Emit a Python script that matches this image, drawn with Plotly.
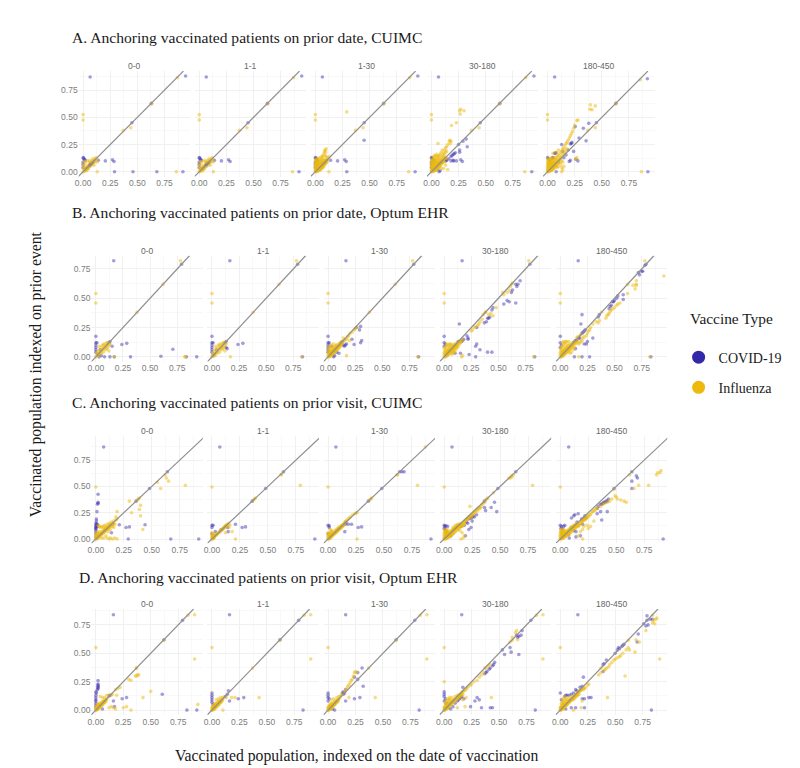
import plotly.graph_objects as go

panels = ["0-0", "1-1", "1-30", "30-180", "180-450"]
tick_vals = [0, 0.25, 0.5, 0.75]
tick_text = ["0.00", "0.25", "0.50", "0.75"]
minor_vals = [0.125, 0.375, 0.625, 0.875]

row_titles = ["A. Anchoring vaccinated patients on prior date, CUIMC",
              "B. Anchoring vaccinated patients on prior date, Optum EHR",
              "C. Anchoring vaccinated patients on prior visit, CUIMC",
              "D. Anchoring vaccinated patients on prior visit, Optum EHR"]
diag_low = -0.045
diag_high = [0.925, 0.865, 0.972, 0.89]

# Row A, CUIMC prior date
a_covid_base = [(0.065, 0.87), (0.945, 0.88), (0.63, 0.63), (0.45, 0.45), (0, 0.13), (0.005, 0.125), (0.012, 0.115),
                (0.02, 0.105), (0, 0.09), (0, 0.07), (0, 0.04), (0.02, 0.02), (0.03, 0.03), (0.04, 0.035), (0.05, 0.05),
                (0.06, 0.055), (0.065, 0.065), (0.07, 0.07), (0.075, 0.075), (0.08, 0.08), (0.09, 0.085), (0.1, 0.1),
                (0.14, 0.105), (0.205, 0.1), (0.27, 0.11), (0.285, 0.095)]
a_flu_base = [(0.87, 0.865), (0, 0.525), (0, 0.475), (0.63, 0.62), (0.37, 0.38), (0.44, 0.405), (0.86, 0.0)]
a_flu_small = [(0, 0), (0.01, 0.01), (0.02, 0.02), (0.03, 0.03), (0.02, 0.04), (0.03, 0.06), (0.05, 0.05), (0.06, 0.08),
               (0.08, 0.1), (0.1, 0.1), (0.11, 0.12), (0.12, 0.13), (0.11, 0.09), (0.09, 0.07), (0.07, 0.05), (0.05, 0.03),
               (0.03, 0.01), (0.02, 0.09), (0.04, 0.1), (0.06, 0.1), (0.1, 0.06), (0.12, 0.11), (0.13, 0.09), (0.09, 0.12),
               (0.04, 0.02), (0, 0.03), (0, 0.06), (0.01, 0.09), (0.13, 0), (0.07, 0.09), (0.04, 0.04), (0.015, 0.005)]
a_flu_core = [(0, 0), (0, 0.01), (0, 0.02), (0, 0.035), (0, 0.05), (0, 0.065), (0, 0.08), (0, 0.1), (0.005, 0.115),
              (0.01, 0), (0.01, 0.015), (0.01, 0.03), (0.01, 0.045), (0.01, 0.06), (0.01, 0.075), (0.01, 0.09), (0.01, 0.11),
              (0.02, 0.005), (0.02, 0.02), (0.02, 0.035), (0.02, 0.05), (0.02, 0.065), (0.02, 0.08), (0.02, 0.095), (0.02, 0.12),
              (0.03, 0.01), (0.03, 0.025), (0.03, 0.04), (0.03, 0.055), (0.03, 0.07), (0.03, 0.085), (0.03, 0.1), (0.03, 0.125),
              (0.04, 0.015), (0.04, 0.03), (0.04, 0.045), (0.04, 0.06), (0.04, 0.075), (0.04, 0.09), (0.04, 0.11),
              (0.05, 0.02), (0.05, 0.035), (0.05, 0.05), (0.05, 0.065), (0.05, 0.08), (0.05, 0.1), (0.05, 0.13),
              (0.06, 0.03), (0.06, 0.045), (0.06, 0.06), (0.06, 0.075), (0.06, 0.09), (0.06, 0.115),
              (0.07, 0.04), (0.07, 0.055), (0.07, 0.07), (0.07, 0.085), (0.07, 0.105), (0.07, 0.13),
              (0.08, 0.05), (0.08, 0.065), (0.08, 0.08), (0.08, 0.1), (0.09, 0.07), (0.09, 0.09), (0.09, 0.11),
              (0.1, 0.08), (0.1, 0.1), (0.11, 0.11), (0.12, 0.12), (0.11, 0.09), (0.015, 0.01), (0.025, 0.015), (0.035, 0.02)]
a_covid_00 = a_covid_base + [(0.29, 0), (0.46, 0), (0.68, 0), (0.92, 0)]
a_flu_00 = a_flu_base + a_flu_small
a_covid_11 = a_covid_base + [(0.92, 0)]
a_flu_11 = a_flu_base + a_flu_small
a_covid_130 = a_covid_base + [(0.45, 0.29), (0.92, 0), (0.29, 0)]
a_flu_130 = a_flu_base + a_flu_core + [(0.29, 0.55), (0.08, 0.17), (0.085, 0.19), (0.09, 0.2), (0.1, 0.21), (0.095, 0.18),
                                       (0.09, 0.15), (0.07, 0.15), (0.06, 0.14), (0.1, 0.14), (0.11, 0.13), (0.13, 0.14), (0.125, 0)]
a_covid_30180 = a_covid_base + [(0.925, 0), (0.18, 0.14), (0.19, 0.15), (0.2, 0.16), (0.21, 0.165), (0.22, 0.175), (0.16, 0.12),
                                (0.14, 0.11), (0.25, 0.25), (0.29, 0.28), (0.32, 0.3), (0.33, 0.23), (0.26, 0.2), (0.26, 0.18),
                                (0.23, 0.1), (0.2, 0.105), (0.18, 0.1), (0.13, 0.1), (0.09, 0.09), (0.05, 0.02), (0.08, 0.01), (0.07, 0)]
a_flu_30180 = a_flu_base + a_flu_core + [(0.27, 0.575), (0.3, 0.56), (0.265, 0.53), (0.26, 0.56), (0.23, 0.45), (0.185, 0.425),
                                         (0.17, 0.29), (0.165, 0.28), (0.18, 0.28), (0.175, 0.26), (0.15, 0.25), (0.14, 0.23),
                                         (0.13, 0.22), (0.12, 0.2), (0.1, 0.2), (0.09, 0.18), (0.06, 0.26), (0.08, 0.16), (0.11, 0.17),
                                         (0.1, 0.15), (0.12, 0.16), (0.13, 0.18), (0.14, 0.19), (0.07, 0.15), (0.06, 0.14), (0.05, 0.16),
                                         (0.04, 0.15), (0.03, 0.15), (0.02, 0.14), (0.09, 0.13), (0.1, 0.12), (0.11, 0.14), (0.12, 0.13),
                                         (0.13, 0.13), (0.14, 0.12), (0.13, 0.06), (0.15, 0.02), (0.11, 0.03), (0.09, 0.03), (0.12, 0.09)]
a_covid_180450 = [(0.065, 0.87), (0.92, 0.855), (0.63, 0.63), (0.45, 0.45), (0, 0.13), (0.01, 0.12), (0.02, 0.1), (0.065, 0.17),
                  (0.07, 0.17), (0.08, 0.175), (0.045, 0.125), (0.05, 0.13), (0.13, 0.25), (0.38, 0.445), (0.33, 0.4), (0.255, 0.415),
                  (0.225, 0.27), (0.21, 0.256), (0.22, 0.26), (0.355, 0.284), (0.29, 0.31), (0.2, 0.095), (0.21, 0.105), (0.26, 0.115),
                  (0.28, 0.1), (0.24, 0.187), (0.17, 0.155), (0.14, 0.187), (0.925, 0), (0.08, 0), (0.1, 0.09), (0.15, 0.13), (0.19, 0.2)]
a_flu_180450 = [(0.855, 0.845), (0, 0.525), (0, 0.475), (0.63, 0.62), (0.37, 0.38), (0.44, 0.405), (0.865, 0)] + a_flu_core + [
    (0.395, 0.615), (0.44, 0.605), (0.39, 0.575), (0.41, 0.57), (0.28, 0.475), (0.27, 0.47), (0.25, 0.43), (0.24, 0.4), (0.23, 0.37),
    (0.22, 0.35), (0.21, 0.33), (0.2, 0.31), (0.19, 0.29), (0.18, 0.27), (0.17, 0.26), (0.16, 0.24), (0.15, 0.22), (0.14, 0.21),
    (0.13, 0.19), (0.12, 0.18), (0.11, 0.16), (0.1, 0.15), (0.09, 0.14), (0.08, 0.13), (0.13, 0.14), (0.14, 0.16), (0.15, 0.17),
    (0.16, 0.18), (0.17, 0.2), (0.18, 0.21), (0.12, 0.13), (0.11, 0.12), (0.13, 0.1), (0.14, 0.09), (0.12, 0.07), (0.1, 0.05),
    (0.09, 0.04), (0.13, 0.04), (0.15, 0.05), (0.14, 0.02), (0.13, 0), (0.26, 0.12), (0.27, 0.13), (0.1, 0.2), (0.08, 0.18), (0.05, 0.17)]

# Row B, Optum EHR prior date
b_covid_base = [(0.165, 0.82), (0.79, 0.79), (0.835, 0), (0, 0.175), (0, 0.12), (0.01, 0.12), (0, 0.1), (0, 0.08), (0, 0.06), (0, 0.04),
                (0.02, 0.02), (0.13, 0.13), (0.12, 0.12)]
b_flu_base = [(0.78, 0.82), (0.62, 0.62), (0.38, 0.38), (0, 0.54), (0, 0.46), (0.825, 0)]
b_flu_small = [(0, 0), (0.01, 0.01), (0.02, 0.02), (0.03, 0.03), (0.04, 0.04), (0.05, 0.05), (0.06, 0.06), (0.07, 0.07), (0.08, 0.08),
               (0.09, 0.09), (0.1, 0.1), (0.11, 0.11), (0.12, 0.12), (0.08, 0.11), (0.06, 0.1), (0.03, 0.09), (0.05, 0.08), (0.1, 0.12),
               (0.12, 0.1), (0.11, 0.08), (0.09, 0.06), (0.07, 0.04), (0.05, 0.03), (0.03, 0.01), (0.02, 0.05), (0.01, 0.03), (0.13, 0.11),
               (0.11, 0.12), (0.1, 0.07), (0.04, 0.06), (0.07, 0.1), (0.12, 0.05), (0.17, 0)]
b_flu_core = [(0, 0), (0, 0.02), (0, 0.04), (0, 0.07), (0.01, 0), (0.01, 0.015), (0.01, 0.03), (0.01, 0.05), (0.01, 0.08), (0.02, 0.005),
              (0.02, 0.02), (0.02, 0.035), (0.02, 0.055), (0.02, 0.09), (0.03, 0.01), (0.03, 0.025), (0.03, 0.04), (0.03, 0.06), (0.03, 0.1),
              (0.04, 0.02), (0.04, 0.035), (0.04, 0.05), (0.04, 0.07), (0.05, 0.03), (0.05, 0.045), (0.05, 0.06), (0.05, 0.08), (0.05, 0.11),
              (0.06, 0.035), (0.06, 0.05), (0.06, 0.065), (0.06, 0.085), (0.07, 0.045), (0.07, 0.06), (0.07, 0.075), (0.07, 0.095),
              (0.08, 0.055), (0.08, 0.07), (0.08, 0.085), (0.08, 0.105), (0.09, 0.065), (0.09, 0.08), (0.09, 0.095), (0.1, 0.075), (0.1, 0.09),
              (0.1, 0.105), (0.11, 0.085), (0.11, 0.1), (0.11, 0.115), (0.12, 0.1), (0.12, 0.115), (0.13, 0.115), (0.13, 0.13), (0.14, 0.13),
              (0.015, 0.01), (0.025, 0.02), (0.035, 0.03), (0.045, 0.04), (0.055, 0.05), (0.065, 0.06), (0.075, 0.07), (0.085, 0.08),
              (0.095, 0.09), (0.105, 0.1), (0.115, 0.11), (0.125, 0.12)]
b_covid_00 = b_covid_base + [(0.05, 0.01), (0.15, 0.09), (0.24, 0.105), (0.285, 0.115), (0.32, 0), (0.13, 0), (0.17, 0), (0.6, 0.005),
                             (0.71, 0.065), (0.93, 0), (0.08, 0), (0.04, 0.06), (0.03, 0)]
b_flu_00 = b_flu_base + b_flu_small + [(0.82, 0)]
b_covid_11 = b_covid_base + [(0.13, 0.08), (0.14, 0.07), (0.24, 0.105), (0.285, 0.115), (0.04, 0.06), (0.01, 0.01)]
b_flu_11 = b_flu_base + b_flu_small
b_covid_130 = b_covid_base + [(0.14, 0.1), (0.15, 0.09), (0.16, 0.1), (0.17, 0.11), (0.1, 0.03), (0.08, 0.04), (0.06, 0.01), (0.24, 0.105),
                              (0.3, 0.12), (0.31, 0.14), (0.3, 0.26), (0.29, 0.23), (0.26, 0.25), (0.22, 0.15), (0.03, 0.09), (0.05, 0)]
b_flu_130 = b_flu_base + b_flu_core + [(0.15, 0.14), (0.16, 0.15), (0.18, 0.17), (0.19, 0.18), (0.2, 0.2), (0.22, 0.21), (0.24, 0.23),
                                       (0.25, 0.24), (0.27, 0.25), (0.14, 0.16), (0.17, 0.15), (0.11, 0.12), (0.17, 0.01), (0.2, 0.14)]
b_covid_30180 = [(0.165, 0.82), (0.79, 0.79), (0.835, 0), (0, 0.175), (0, 0.12), (0.01, 0.11), (0, 0.09), (0.13, 0.13), (0.14, 0.28),
                 (0.7, 0.65), (0.68, 0.62), (0.66, 0.62), (0.67, 0.6), (0.63, 0.57), (0.62, 0.55), (0.66, 0.46), (0.58, 0.48), (0.55, 0.45),
                 (0.6, 0.47), (0.45, 0.42), (0.44, 0.4), (0.42, 0.34), (0.41, 0.33), (0.4, 0.33), (0.39, 0.3), (0.37, 0.29), (0.3, 0.25),
                 (0.22, 0.15), (0.22, 0.16), (0.21, 0.18), (0.18, 0.15), (0.17, 0.14), (0.16, 0.13), (0.3, 0.11), (0.29, 0.09), (0.33, 0.06),
                 (0.4, 0.04), (0.44, 0.04), (0.29, 0), (0.23, 0.02), (0.15, 0.03), (0.1, 0.03)]
b_flu_30180 = b_flu_base + b_flu_core + [(0.14, 0.11), (0.15, 0.13), (0.16, 0.15), (0.17, 0.14), (0.15, 0.12), (0.13, 0.09), (0.12, 0.08),
                                         (0.11, 0.07), (0.1, 0.05), (0.09, 0.04), (0.08, 0.03), (0.07, 0.02), (0.25, 0.22), (0.26, 0.23),
                                         (0.28, 0.25), (0.29, 0.26), (0.31, 0.27), (0.32, 0.28), (0.33, 0.3), (0.35, 0.32), (0.36, 0.36),
                                         (0.38, 0.38), (0.41, 0.36), (0.43, 0.37), (0.45, 0.35), (0.48, 0.42), (0.54, 0.55), (0.55, 0.53),
                                         (0.58, 0.55), (0.6, 0.57), (0.61, 0.6), (0.63, 0.63), (0.16, 0), (0.17, 0.01), (0.06, 0.11), (0.04, 0.1), (0.02, 0.11)]
b_covid_180450 = [(0.165, 0.82), (0.79, 0.79), (0.835, 0), (0, 0.175), (0, 0.12), (0, 0.08), (0.01, 0.1), (0.78, 0.78), (0.76, 0.73), (0.72, 0.72),
                  (0.73, 0.7), (0.75, 0.73), (0.58, 0.53), (0.58, 0.49), (0.53, 0.52), (0.52, 0.5), (0.5, 0.48), (0.49, 0.47), (0.48, 0.47), (0.47, 0.44),
                  (0.46, 0.43), (0.45, 0.41), (0.36, 0.36), (0.35, 0.34), (0.2, 0.36), (0.19, 0.28), (0.23, 0.23), (0.22, 0.22), (0.21, 0.21), (0.2, 0.2),
                  (0.18, 0.16), (0.17, 0.16), (0.15, 0.14), (0.14, 0.14), (0.13, 0.13), (0.12, 0.12), (0.25, 0.13), (0.24, 0.11), (0.22, 0.11), (0.27, 0.0),
                  (0.2, 0.0), (0.13, 0.0), (0.14, 0.07), (0.3, 0.16)]
b_flu_180450 = [(0.78, 0.82), (0.62, 0.62), (0.38, 0.38), (0, 0.54), (0, 0.46), (0.825, 0), (0.955, 0.69)] + b_flu_core + [
    (0.7, 0.65), (0.7, 0.62), (0.7, 0.61), (0.69, 0.58), (0.67, 0.61), (0.62, 0.54), (0.55, 0.46), (0.53, 0.45), (0.52, 0.44), (0.5, 0.42),
    (0.48, 0.41), (0.47, 0.4), (0.46, 0.39), (0.45, 0.37), (0.44, 0.36), (0.43, 0.35), (0.42, 0.33), (0.36, 0.31), (0.35, 0.29), (0.33, 0.3),
    (0.3, 0.28), (0.28, 0.25), (0.27, 0.23), (0.26, 0.22), (0.25, 0.2), (0.24, 0.18), (0.22, 0.17), (0.21, 0.16), (0.2, 0.14), (0.19, 0.13),
    (0.18, 0.12), (0.17, 0.11), (0.16, 0.13), (0.15, 0.12), (0.14, 0.11), (0.13, 0.08), (0.12, 0.06), (0.1, 0.04), (0.09, 0.03), (0.17, 0),
    (0.02, 0.12), (0.03, 0.13), (0.04, 0.12), (0.05, 0.13), (0.06, 0.13), (0.08, 0.13), (0.15, 0.16), (0.16, 0.17), (0.18, 0.18), (0.19, 0.19)]

# Row C, CUIMC prior visit
c_covid_base = [(0.07, 0.875), (0.64, 0.64), (0.48, 0.48), (0.36, 0.36)]
c_flu_base = [(0, 0.495), (0.62, 0.61), (0.37, 0.37), (0.38, 0.38), (0.39, 0.39)]
c_flu_diag = [(0, 0), (0.005, 0.005), (0.01, 0.01), (0.015, 0.015), (0.02, 0.02), (0.025, 0.025), (0.03, 0.03), (0.035, 0.035), (0.04, 0.04),
              (0.045, 0.045), (0.05, 0.05), (0.055, 0.055), (0.06, 0.06), (0.065, 0.065), (0.07, 0.07), (0.075, 0.075), (0.08, 0.08),
              (0.085, 0.085), (0.09, 0.09), (0.095, 0.095), (0.1, 0.1), (0.105, 0.105), (0.11, 0.11), (0.115, 0.115), (0.12, 0.12), (0.125, 0.125),
              (0.13, 0.13), (0.135, 0.135), (0.14, 0.14), (0.15, 0.15), (0, 0.01), (0, 0.025), (0, 0.04), (0, 0.06), (0.01, 0), (0.01, 0.02), (0.01, 0.035),
              (0.015, 0.05), (0.02, 0.01), (0.02, 0.035), (0.02, 0.06), (0.03, 0.02), (0.03, 0.045), (0.03, 0.07), (0.04, 0.03), (0.04, 0.055), (0.05, 0.04),
              (0.05, 0.065), (0.06, 0.05), (0.06, 0.075), (0.07, 0.06), (0.07, 0.085), (0.08, 0.07), (0.08, 0.095), (0.09, 0.08), (0.09, 0.105),
              (0.1, 0.09), (0.1, 0.115), (0.11, 0.1), (0.12, 0.11), (0.13, 0.12), (0.12, 0.13), (0.14, 0.13)]
c_flu_band = [(0.02, 0.005), (0.03, 0.01), (0.04, 0.02), (0.05, 0.025), (0.06, 0.035), (0.07, 0.045), (0.08, 0.05), (0.09, 0.06), (0.1, 0.07), (0.11, 0.08),
              (0.12, 0.09), (0.13, 0.1), (0.14, 0.11), (0.15, 0.12), (0.16, 0.12), (0.17, 0.13), (0.18, 0.15), (0.19, 0.17), (0.2, 0.18), (0.21, 0.19),
              (0.22, 0.2), (0.23, 0.2), (0.24, 0.21), (0.25, 0.22), (0.26, 0.23), (0.28, 0.25), (0.3, 0.27), (0.32, 0.29), (0.005, 0.07), (0.005, 0.09),
              (0.01, 0.06), (0.01, 0.08), (0.015, 0.07), (0.02, 0.08), (0.025, 0.05), (0.03, 0.09), (0.035, 0.06)]
c_covid_00 = c_covid_base + [(0, 0.02), (0, 0.05), (0, 0.07), (0, 0.09), (0, 0.1), (0, 0.11), (0, 0.12), (0.005, 0.13), (0.005, 0.14), (0, 0.15),
                             (0.005, 0.17), (0.005, 0.19), (0.01, 0.26), (0.015, 0.33), (0.02, 0.34), (0.02, 0.35), (0.02, 0.425), (0.015, 0.14),
                             (0.015, 0.12), (0.14, 0.06), (0.08, 0.08), (0.09, 0.09), (0.1, 0.1), (0.15, 0.14), (0.21, 0.135), (0.27, 0.11), (0.3, 0.115),
                             (0.29, 0), (0.44, 0.135), (0.67, 0), (0.92, 0)]
c_flu_00 = c_flu_base + c_flu_diag + [(0.02, 0.13), (0.03, 0.12), (0.04, 0.11), (0.05, 0.12), (0.06, 0.11), (0.07, 0.12), (0.08, 0.13), (0.1, 0.14),
                                      (0.12, 0.15), (0.14, 0.16), (0.16, 0.17), (0.18, 0.18), (0.19, 0.19), (0.17, 0.14), (0.16, 0.11), (0.18, 0.21),
                                      (0.19, 0.26), (0.16, 0.15), (0.15, 0.12), (0.1, 0.01), (0.12, 0), (0.13, 0.01), (0.15, 0), (0.17, 0.01), (0.19, 0),
                                      (0.09, 0.03), (0.07, 0.01), (0.05, 0.01), (0.11, 0.07), (0.13, 0.09), (0.3, 0.36), (0.32, 0.25), (0.4, 0.32), (0.39, 0.28),
                                      (0.4, 0.22), (0.42, 0.09), (0.55, 0.54), (0.58, 0.48), (0.63, 0.58), (0.65, 0.55), (0.8, 0.51)]
c_covid_11 = c_covid_base + [(0, 0.13), (0.01, 0.13), (0, 0.11), (0, 0.05), (0.01, 0.03), (0.08, 0.085), (0.09, 0.09), (0.12, 0.12), (0.14, 0.11),
                             (0.145, 0.07), (0.21, 0.14), (0.27, 0.11), (0.3, 0.115), (0.92, 0), (0.03, 0.07)]
c_flu_11 = c_flu_base + c_flu_diag[:40] + [(0.18, 0.07), (0.12, 0.06), (0.15, 0.11), (0.16, 0.13), (0.1, 0.1), (0.12, 0.12), (0.21, 0), (0.79, 0.51), (0.62, 0.615)]
c_covid_130 = c_covid_base + [(0, 0.13), (0.01, 0.125), (0.01, 0.11), (0, 0.05), (0.1, 0.1), (0.13, 0.13), (0.15, 0.15), (0.16, 0.16), (0.155, 0.14),
                              (0.18, 0.14), (0.15, 0.07), (0.21, 0.14), (0.27, 0.11), (0.3, 0.115), (0.68, 0.64), (0.92, 0), (0.66, 0.64)]
c_flu_130 = c_flu_base + c_flu_diag + [(0.02, 0.09), (0.03, 0.08), (0.15, 0.16), (0.16, 0.17), (0.17, 0.18), (0.18, 0.19), (0.19, 0.2), (0.2, 0.21), (0.22, 0.23),
                                       (0.24, 0.24), (0.25, 0.25), (0.26, 0.25), (0.26, 0), (0.8, 0.51), (0.87, 0.875), (0.62, 0.61)]
c_covid_30180 = [(0.07, 0.875), (0.64, 0.64), (0.48, 0.48), (0.36, 0.36), (0, 0.13), (0.005, 0.12), (0.015, 0.125), (0.03, 0.12), (0, 0.1), (0.01, 0.09), (0.02, 0.07),
                 (0.04, 0.04), (0.06, 0.03), (0.22, 0.19), (0.23, 0.2), (0.24, 0.2), (0.25, 0.21), (0.27, 0.21), (0.26, 0.22), (0.25, 0.17), (0.2, 0.16), (0.21, 0.15),
                 (0.18, 0.13), (0.15, 0.12), (0.29, 0.23), (0.36, 0.3), (0.42, 0.3), (0.45, 0.35), (0.47, 0.26), (0.37, 0.27), (0.24, 0.11), (0.22, 0.09), (0.19, 0.03)]
c_flu_30180 = c_flu_base + c_flu_diag + c_flu_band + [(0.15, 0.14), (0.16, 0.15), (0.17, 0.16), (0.18, 0.17), (0.19, 0.18), (0.2, 0.19), (0.21, 0.2), (0.22, 0.21), (0.23, 0.22),
                                                      (0.24, 0.23), (0.25, 0.24), (0.26, 0.25), (0.27, 0.26), (0.28, 0.27), (0.29, 0.28), (0.3, 0.29), (0.31, 0.3), (0.32, 0.3),
                                                      (0.33, 0.31), (0.34, 0.33), (0.35, 0.34), (0.36, 0.35), (0.23, 0.31), (0.16, 0.13), (0.18, 0.14), (0.1, 0.13), (0.12, 0.14),
                                                      (0.08, 0.11), (0.14, 0.08), (0.16, 0.06), (0.18, 0.03), (0.15, 0), (0.17, 0.01), (0.05, 0.02), (0.08, 0.05), (0.6, 0.6), (0.605, 0.59),
                                                      (0.59, 0.58), (0.58, 0.58), (0.79, 0.51), (0.44, 0.44)]
c_covid_180450 = [(0.075, 0.875), (0.64, 0.64), (0.48, 0.48), (0, 0.13), (0.01, 0.12), (0.005, 0.1), (0.02, 0.09), (0.03, 0.12), (0.04, 0.13), (0.1, 0.2),
                  (0.12, 0.22), (0.13, 0.23), (0.16, 0.24), (0.2, 0.18), (0.21, 0.2), (0.19, 0.19), (0.22, 0.22), (0.23, 0.2), (0.2, 0.14), (0.15, 0.16),
                  (0.1, 0.11), (0.12, 0.08), (0.14, 0.07), (0.07, 0.04), (0.08, 0.01), (0.14, 0.02), (0.18, 0.03), (0.33, 0.29), (0.34, 0.31), (0.36, 0.33), (0.37, 0.33),
                  (0.38, 0.34), (0.39, 0.35), (0.4, 0.35), (0.41, 0.36), (0.42, 0.36), (0.43, 0.38), (0.36, 0.26), (0.42, 0.26), (0.33, 0.24), (0.37, 0.18), (0.64, 0.55),
                  (0.64, 0.48), (0.69, 0.58), (0.68, 0.6), (0.92, 0)]
c_flu_180450 = [(0, 0.495), (0.62, 0.61)] + c_flu_diag + c_flu_band + [(0.15, 0.13), (0.16, 0.13), (0.17, 0.14), (0.18, 0.15), (0.19, 0.16), (0.2, 0.17), (0.21, 0.18), (0.22, 0.18),
                                                                       (0.23, 0.19), (0.25, 0.21), (0.27, 0.23), (0.29, 0.26), (0.31, 0.27), (0.33, 0.29), (0.36, 0.31), (0.38, 0.33), (0.4, 0.34), (0.42, 0.35),
                                                                       (0.44, 0.36), (0.46, 0.38), (0.49, 0.41), (0.5, 0.4), (0.51, 0.38), (0.54, 0.37), (0.57, 0.36), (0.59, 0.35), (0.48, 0.47), (0.66, 0.48),
                                                                       (0.7, 0.51), (0.79, 0.51), (0.87, 0.63), (0.86, 0.61), (0.9, 0.65), (0.89, 0.63), (0.18, 0.07), (0.2, 0.09), (0.24, 0.13), (0.27, 0.12),
                                                                       (0.25, 0.1), (0.21, 0.12), (0.2, 0), (0.16, 0.03), (0.3, 0.17), (0.02, 0.06), (0.04, 0.08), (0.05, 0.03), (0.08, 0.04)]

# Row D, Optum EHR prior visit
d_covid_base = [(0.16, 0.84), (0.79, 0.79), (0.62, 0.62)]
d_flu_base = [(0.9, 0.84), (0, 0.55), (0.62, 0.615), (0.37, 0.37), (0.84, 0.835)]
d_flu_diag = [(0, 0), (0.005, 0), (0.01, 0.005), (0.015, 0.015), (0.02, 0.02), (0.025, 0.02), (0.03, 0.03), (0.035, 0.03), (0.04, 0.04), (0.045, 0.04), (0.05, 0.05),
              (0.055, 0.05), (0.06, 0.06), (0.065, 0.06), (0.07, 0.07), (0.075, 0.07), (0.08, 0.08), (0.085, 0.08), (0.09, 0.09), (0.095, 0.09), (0.1, 0.1),
              (0, 0.01), (0, 0.025), (0.005, 0.02), (0.01, 0.025), (0.01, 0.04), (0.02, 0.035), (0.02, 0.05), (0.03, 0.045), (0.03, 0.06), (0.04, 0.055), (0.05, 0.065),
              (0.06, 0.075), (0.07, 0.085), (0.015, 0.005), (0.025, 0.01), (0.035, 0.02), (0.045, 0.03), (0.055, 0.04), (0.065, 0.05), (0.08, 0.065), (0.09, 0.075)]
d_flu_band = [(0.11, 0.105), (0.12, 0.115), (0.13, 0.125), (0.14, 0.135), (0.15, 0.145), (0.16, 0.155), (0.17, 0.165), (0.18, 0.17), (0.19, 0.175), (0.2, 0.185),
              (0.21, 0.195), (0.1, 0.085), (0.11, 0.09), (0.12, 0.095), (0.13, 0.105), (0.14, 0.115), (0.15, 0.125), (0.16, 0.13), (0.17, 0.14), (0.02, 0.07), (0.03, 0.08),
              (0.01, 0.06), (0.04, 0.09), (0.05, 0.095)]
d_covid_00 = d_covid_base + [(0, 0.02), (0, 0.04), (0, 0.06), (0, 0.08), (0, 0.09), (0, 0.11), (0, 0.13), (0.005, 0.15), (0, 0.16), (0.015, 0.18), (0.02, 0.19), (0.02, 0.2),
                             (0.02, 0.21), (0.02, 0.22), (0.02, 0.23), (0.02, 0.26), (0.12, 0.125), (0.13, 0.13), (0.16, 0.08), (0.24, 0.1), (0.28, 0.11), (0.17, 0.03),
                             (0.605, 0.14), (0.83, 0), (0.92, 0), (0.06, 0.01)]
d_flu_00 = d_flu_base + d_flu_diag + [(0.04, 0.12), (0.06, 0.11), (0.08, 0.11), (0.1, 0.13), (0.12, 0.13), (0.14, 0.13), (0.15, 0.14), (0.18, 0.18), (0.2, 0.19), (0.22, 0.2),
                                      (0.3, 0.27), (0.32, 0.26), (0.36, 0.3), (0.37, 0.3), (0.38, 0.31), (0.39, 0.31), (0.37, 0.37), (0.19, 0.13), (0.12, 0.02), (0.14, 0.03), (0.16, 0.02),
                                      (0.18, 0.01), (0.25, 0.02), (0.28, 0.03), (0.32, 0), (0.43, 0.11), (0.5, 0.165), (0.9, 0.45), (0.93, 0.05)]
d_covid_11 = d_covid_base + [(0, 0.15), (0, 0.13), (0, 0.11), (0, 0.09), (0, 0.07), (0.01, 0.05), (0.02, 0.03), (0.14, 0.14), (0.15, 0.17), (0.12, 0.12), (0.16, 0.08), (0.24, 0.1), (0.29, 0.11), (0.83, 0)]
d_flu_11 = d_flu_base + d_flu_diag + [(0.04, 0.09), (0.06, 0.1), (0.08, 0.11), (0.1, 0.11), (0.13, 0.11), (0.18, 0.11), (0.21, 0.11), (0.43, 0.11), (0.1, 0), (0.9, 0.45)]
d_covid_130 = d_covid_base + [(0, 0.15), (0, 0.13), (0, 0.11), (0.01, 0.1), (0, 0.08), (0.02, 0.03), (0.04, 0.01), (0.06, 0), (0.13, 0.15), (0.14, 0.16), (0.14, 0.14), (0.15, 0.15),
                              (0.16, 0.18), (0.16, 0.08), (0.24, 0.1), (0.29, 0.11), (0.32, 0.21), (0.27, 0.27), (0.31, 0.37), (0.27, 0.33), (0.24, 0.29), (0.83, 0)]
d_flu_130 = d_flu_base + d_flu_diag + [(0.03, 0.09), (0.05, 0.1), (0.08, 0.11), (0.1, 0.12), (0.11, 0.12), (0.12, 0.13), (0.13, 0.14), (0.15, 0.16), (0.16, 0.17), (0.17, 0.19), (0.18, 0.21), (0.19, 0.22),
                                       (0.2, 0.24), (0.21, 0.26), (0.22, 0.27), (0.23, 0.3), (0.24, 0.33), (0.25, 0.34), (0.26, 0.33), (0.19, 0.11), (0.43, 0.11), (0.9, 0.45)]
d_covid_30180 = [(0.16, 0.84), (0.79, 0.79), (0, 0.16), (0, 0.14), (0, 0.12), (0.01, 0.1), (0, 0.08), (0.02, 0.06), (0.04, 0.02), (0.06, 0.01), (0.08, 0.03), (0.1, 0.06), (0.12, 0.08), (0.13, 0.09),
                 (0.14, 0.1), (0.15, 0.11), (0.16, 0.12), (0.17, 0.2), (0.18, 0.1), (0.24, 0.03), (0.3, 0.11), (0.32, 0.09), (0.34, 0.02), (0.28, 0.08), (0.41, 0.36), (0.42, 0.37), (0.44, 0.39), (0.46, 0.42), (0.45, 0.4),
                 (0.37, 0.32), (0.38, 0.33), (0.39, 0.34), (0.6, 0.55), (0.68, 0.49), (0.61, 0.51), (0.53, 0.53), (0.55, 0.49), (0.66, 0.66), (0.68, 0.65), (0.7, 0.66), (0.71, 0.7), (0.67, 0.64), (0.42, 0.02), (0.44, 0.02), (0.83, 0)]
d_flu_30180 = d_flu_base + d_flu_diag + d_flu_band + [(0.03, 0.1), (0.05, 0.11), (0.07, 0.11), (0.1, 0.12), (0.12, 0.13), (0.13, 0.12), (0.14, 0.13), (0.15, 0.14), (0.16, 0.15), (0.22, 0.21), (0.24, 0.22), (0.25, 0.23),
                                                      (0.27, 0.25), (0.3, 0.26), (0.32, 0.29), (0.34, 0.31), (0.36, 0.33), (0.38, 0.37), (0.4, 0.39), (0.42, 0.4), (0, 0.25), (0.43, 0.11), (0.9, 0.45), (0.62, 0.64), (0.66, 0.7),
                                                      (0.67, 0.62), (0.65, 0.68), (0.6, 0.6), (0.2, 0.11), (0.17, 0.09), (0.19, 0.03), (0.12, 0.02)]
d_covid_180450 = [(0.16, 0.84), (0.79, 0.79), (0.83, 0), (0, 0.15), (0.01, 0.09), (0.04, 0.12), (0.05, 0.13), (0.06, 0.13), (0.08, 0.13), (0.1, 0.14), (0.12, 0.15), (0.14, 0.18), (0.15, 0.17),
                  (0.18, 0.2), (0.2, 0.21), (0.2, 0.1), (0.22, 0.1), (0.26, 0.11), (0.28, 0.11), (0.22, 0.02), (0.14, 0.02), (0.1, 0.02), (0.05, 0.01), (0.21, 0.29), (0.39, 0.34), (0.39, 0.4), (0.4, 0.41),
                  (0.42, 0.44), (0.5, 0.5), (0.52, 0.53), (0.53, 0.55), (0.54, 0.54), (0.56, 0.56), (0.57, 0.57), (0.58, 0.58), (0.7, 0.6), (0.71, 0.67), (0.76, 0.76), (0.78, 0.74), (0.8, 0.75), (0.82, 0.8), (0.84, 0.8), (0.79, 0.83)]
d_flu_180450 = [(0.84, 0.835), (0, 0.55), (0.62, 0.615), (0.37, 0.37), (0.905, 0.45), (0.43, 0.11), (0.59, 0.3), (0.2, 0.08)] + d_flu_diag + d_flu_band + [
    (0.11, 0.1), (0.12, 0.11), (0.13, 0.12), (0.14, 0.13), (0.15, 0.14), (0.16, 0.15), (0.17, 0.16), (0.18, 0.17), (0.19, 0.18), (0.21, 0.18), (0.22, 0.19), (0.23, 0.2), (0.25, 0.22), (0.26, 0.23),
    (0.35, 0.31), (0.37, 0.33), (0.4, 0.35), (0.41, 0.36), (0.42, 0.37), (0.44, 0.38), (0.45, 0.4), (0.47, 0.42), (0.49, 0.44), (0.5, 0.45), (0.52, 0.46), (0.54, 0.47), (0.55, 0.48), (0.57, 0.5),
    (0.6, 0.53), (0.62, 0.55), (0.69, 0.62), (0.72, 0.6), (0.68, 0.51), (0.63, 0.53), (0.85, 0.79), (0.87, 0.8), (0.84, 0.77), (0.86, 0.76), (0.88, 0.81), (0.78, 0.7), (0.04, 0.12), (0.02, 0.1), (0.06, 0.11),
    (0.08, 0.1), (0.1, 0.12), (0.12, 0), (0.19, 0.02)]

covid_rows = [[a_covid_00, a_covid_11, a_covid_130, a_covid_30180, a_covid_180450],
              [b_covid_00, b_covid_11, b_covid_130, b_covid_30180, b_covid_180450],
              [c_covid_00, c_covid_11, c_covid_130, c_covid_30180, c_covid_180450],
              [d_covid_00, d_covid_11, d_covid_130, d_covid_30180, d_covid_180450]]
flu_rows = [[a_flu_00, a_flu_11, a_flu_130, a_flu_30180, a_flu_180450],
            [b_flu_00, b_flu_11, b_flu_130, b_flu_30180, b_flu_180450],
            [c_flu_00, c_flu_11, c_flu_130, c_flu_30180, c_flu_180450],
            [d_flu_00, d_flu_11, d_flu_130, d_flu_30180, d_flu_180450]]

W, H = 800, 768
COVID = "#3228a8"
FLU = "#ecb90c"
SERIF = "Liberation Serif"
SANS = "Liberation Sans"

# pixel layout of each row: zero x of first panel, px per unit x, zero y, px per unit y, top, bottom
row_px = [(79.5, 109, 172, 109, 71, 177),
          (92.3, 109, 357.3, 117.3, 256, 362),
          (92.3, 112.4, 539.7, 105.3, 437, 544),
          (92.3, 110.3, 711, 113.7, 609.7, 716)]
panel_step = 116.7
panel_w = 112
title_pos = [(66, 38), (66, 212.7), (66, 402.7), (73, 578.3)]

fig = go.Figure()
layout = {}
annotations = []


def paper(px, py):
    return px / W, 1 - py / H


n = 0
for r in range(4):
    x0, sx, y0, sy, top, bottom = row_px[r]
    for c in range(5):
        n += 1
        left = x0 - 4.5 + c * panel_step
        zero = x0 + c * panel_step
        suffix = "" if n == 1 else str(n)
        grid = dict(showgrid=True, gridcolor="#f0f0f0", gridwidth=0.7, zeroline=False, showline=False, ticks="",
                    tickvals=tick_vals, ticktext=tick_text, tickfont=dict(family=SANS, size=8.5, color="#7d7d7d"),
                    minor=dict(tickvals=minor_vals, showgrid=True, gridcolor="#f8f8f8", gridwidth=0.5, ticks=""))
        layout["xaxis" + suffix] = dict(grid, domain=[left / W, (left + panel_w) / W], anchor="y" + suffix,
                                        range=[(left - zero) / sx, (left + panel_w - zero) / sx])
        layout["yaxis" + suffix] = dict(grid, domain=[1 - bottom / H, 1 - top / H], anchor="x" + suffix,
                                        range=[(y0 - bottom) / sy, (y0 - top) / sy], showticklabels=c == 0)
        for pts, color, opacity in [(covid_rows[r][c], COVID, 0.45), (flu_rows[r][c], FLU, 0.5)]:
            fig.add_trace(go.Scatter(x=[p[0] for p in pts], y=[p[1] for p in pts], mode="markers", xaxis="x" + suffix,
                                     yaxis="y" + suffix, showlegend=False, cliponaxis=False,
                                     marker=dict(size=3.6, color=color, opacity=opacity, line=dict(width=0))))
        fig.add_trace(go.Scatter(x=[diag_low, diag_high[r]], y=[diag_low, diag_high[r]], mode="lines", xaxis="x" + suffix,
                                 yaxis="y" + suffix, showlegend=False, line=dict(color="#8f8f8f", width=1.2)))
        px, py = paper(left + panel_w / 2, top - 5)
        annotations.append(dict(text=panels[c], x=px, y=py, xref="paper", yref="paper", showarrow=False, xanchor="center",
                                yanchor="middle", font=dict(family=SANS, size=8.5, color="#666666")))
    px, py = paper(*title_pos[r])
    annotations.append(dict(text=row_titles[r], x=px, y=py, xref="paper", yref="paper", showarrow=False, xanchor="left",
                            yanchor="middle", font=dict(family=SERIF, size=15.6, color="#1a1a1a")))

px, py = paper(354, 757)
annotations.append(dict(text="Vaccinated population, indexed on the date of vaccination", x=px, y=py, xref="paper", yref="paper",
                        showarrow=False, xanchor="center", yanchor="middle", font=dict(family=SERIF, size=15.7, color="#1a1a1a")))
px, py = paper(32, 375)
annotations.append(dict(text="Vaccinated population indexed on prior event", x=px, y=py, xref="paper", yref="paper", textangle=-90,
                        showarrow=False, xanchor="center", yanchor="middle", font=dict(family=SERIF, size=15.7, color="#1a1a1a")))
px, py = paper(687, 319)
annotations.append(dict(text="Vaccine Type", x=px, y=py, xref="paper", yref="paper", showarrow=False, xanchor="left",
                        yanchor="middle", font=dict(family=SERIF, size=15.4, color="#1a1a1a")))

for name, color in [("COVID-19", COVID), ("Influenza", FLU)]:
    fig.add_trace(go.Scatter(x=[None], y=[None], mode="markers", name=name, legendgroup=name,
                             marker=dict(size=13, color=color)))

fig.update_layout(**layout)
fig.update_layout(width=W, height=H, margin=dict(l=0, r=0, t=0, b=0), paper_bgcolor="white", plot_bgcolor="white",
                  annotations=annotations,
                  legend=dict(x=678 / W, y=1 - 342 / H, xanchor="left", yanchor="top", tracegroupgap=9, itemsizing="trace",
                              font=dict(family=SERIF, size=14, color="#1a1a1a"), bgcolor="rgba(0,0,0,0)"))
fig.write_html("out.html", config={"displayModeBar": False},
               post_script="document.body.style.margin='0';document.documentElement.style.overflow='hidden';")
